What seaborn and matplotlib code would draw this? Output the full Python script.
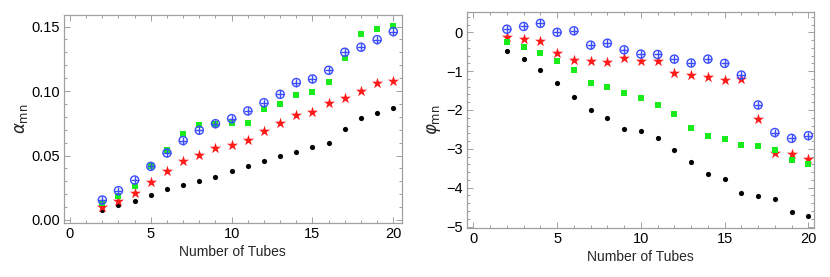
import matplotlib
matplotlib.use("Agg")
import matplotlib.pyplot as plt
import numpy as np
import seaborn as sns
from matplotlib.ticker import MultipleLocator

tubes = list(range(2, 21))

# alpha_mn (left panel)
alpha_black = [0.0078, 0.0114, 0.0147, 0.0197, 0.0238, 0.0274, 0.0305, 0.0336, 0.0378, 0.0416,
               0.0458, 0.0497, 0.0528, 0.0566, 0.0600, 0.0709, 0.0794, 0.0830, 0.0869]
alpha_red = [0.0103, 0.0150, 0.0212, 0.0297, 0.0378, 0.0455, 0.0502, 0.0559, 0.0579, 0.0621,
             0.0688, 0.0753, 0.0817, 0.0835, 0.0908, 0.0949, 0.1001, 0.1060, 0.1078]
alpha_green = [0.0134, 0.0189, 0.0266, 0.0422, 0.0543, 0.0667, 0.0734, 0.0747, 0.0753, 0.0753,
               0.0859, 0.0897, 0.0967, 0.0996, 0.1071, 0.1254, 0.1443, 0.1482, 0.1503]
alpha_blue = [0.0155, 0.0228, 0.0310, 0.0416, 0.0520, 0.0616, 0.0696, 0.0747, 0.0786, 0.0846,
              0.0910, 0.0975, 0.1066, 0.1094, 0.1161, 0.1301, 0.1340, 0.1399, 0.1461]

# phi_mn (right panel)
phi_black = [-0.47, -0.69, -0.98, -1.30, -1.66, -2.00, -2.21, -2.48, -2.54, -2.71,
             -3.03, -3.35, -3.65, -3.77, -4.14, -4.21, -4.29, -4.63, -4.73]
phi_red = [-0.13, -0.18, -0.22, -0.52, -0.72, -0.73, -0.76, -0.67, -0.74, -0.75,
           -1.05, -1.11, -1.16, -1.24, -1.21, -2.22, -3.10, -3.12, -3.25]
phi_green = [-0.25, -0.38, -0.54, -0.75, -0.96, -1.30, -1.41, -1.56, -1.70, -1.87,
             -2.11, -2.46, -2.68, -2.74, -2.90, -2.93, -3.04, -3.28, -3.39]
phi_blue = [0.08, 0.15, 0.23, 0.00, 0.04, -0.33, -0.28, -0.45, -0.56, -0.57,
            -0.69, -0.79, -0.69, -0.80, -1.10, -1.87, -2.58, -2.73, -2.66]

BLACK = "#000000"
RED = "#ff1a1a"
GREEN = "#1aeb1a"
BLUE = "#3b4dff"
FRAME = "#a0a0a0"

sns.set_style("ticks")
plt.rcParams['font.family'] = ['Liberation Sans', 'DejaVu Sans']
plt.rcParams['mathtext.fontset'] = 'dejavusans'

fig = plt.figure(figsize=(8.3, 2.77), dpi=100)
ax1 = fig.add_axes([0.0771, 0.196, 0.4069, 0.750])
ax2 = fig.add_axes([0.5623, 0.178, 0.4184, 0.7776])


def draw(ax, black, red, green, blue):
    sns.scatterplot(x=tubes, y=black, ax=ax, color=BLACK, marker="o", s=14, linewidth=0)
    sns.scatterplot(x=tubes, y=red, ax=ax, color=RED, marker="*", s=70, linewidth=0)
    sns.scatterplot(x=tubes, y=green, ax=ax, color=GREEN, marker="s", s=20, linewidth=0)
    # circled plus: open circle with a cross on top
    ax.scatter(tubes, blue, s=34, facecolors="none", edgecolors=BLUE, linewidths=1.0)
    ax.scatter(tubes, blue, s=34, marker="+", color=BLUE, linewidths=1.0)


def style(ax, xlim, ylim, ymaj, ymin):
    ax.set_xlim(*xlim)
    ax.set_ylim(*ylim)
    ax.xaxis.set_major_locator(MultipleLocator(5))
    ax.xaxis.set_minor_locator(MultipleLocator(1))
    ax.yaxis.set_major_locator(MultipleLocator(ymaj))
    ax.yaxis.set_minor_locator(MultipleLocator(ymin))
    for sp in ax.spines.values():
        sp.set_visible(True)
        sp.set_color(FRAME)
        sp.set_linewidth(0.9)
    ax.tick_params(which="both", direction="in", top=True, right=True, color=FRAME,
                   labelsize=10.5, labelcolor="black", width=0.7, pad=3)
    ax.tick_params(which="major", length=4)
    ax.tick_params(which="minor", length=2)
    ax.tick_params(axis="both", which="both", labeltop=False, labelright=False)
    ax.set_xlabel("Number of Tubes", fontsize=10, labelpad=3)


draw(ax1, alpha_black, alpha_red, alpha_green, alpha_blue)
style(ax1, (-0.37, 20.52), (-0.0021, 0.159), 0.05, 0.01)
ax1.yaxis.set_major_formatter(matplotlib.ticker.FormatStrFormatter("%.2f"))
ax1.set_ylabel(r"$\alpha_{\rm mn}$", fontsize=12, labelpad=1)

draw(ax2, phi_black, phi_red, phi_green, phi_blue)
style(ax2, (-0.40, 20.34), (-5.03, 0.515), 1, 0.2)
ax2.yaxis.set_major_formatter(matplotlib.ticker.FuncFormatter(lambda v, p: f"{int(round(v))}".replace("-", "\u2212")))
ax2.set_ylabel(r"$\varphi_{\rm mn}$", fontsize=12, labelpad=2)

fig.savefig("out.png", dpi=100)
